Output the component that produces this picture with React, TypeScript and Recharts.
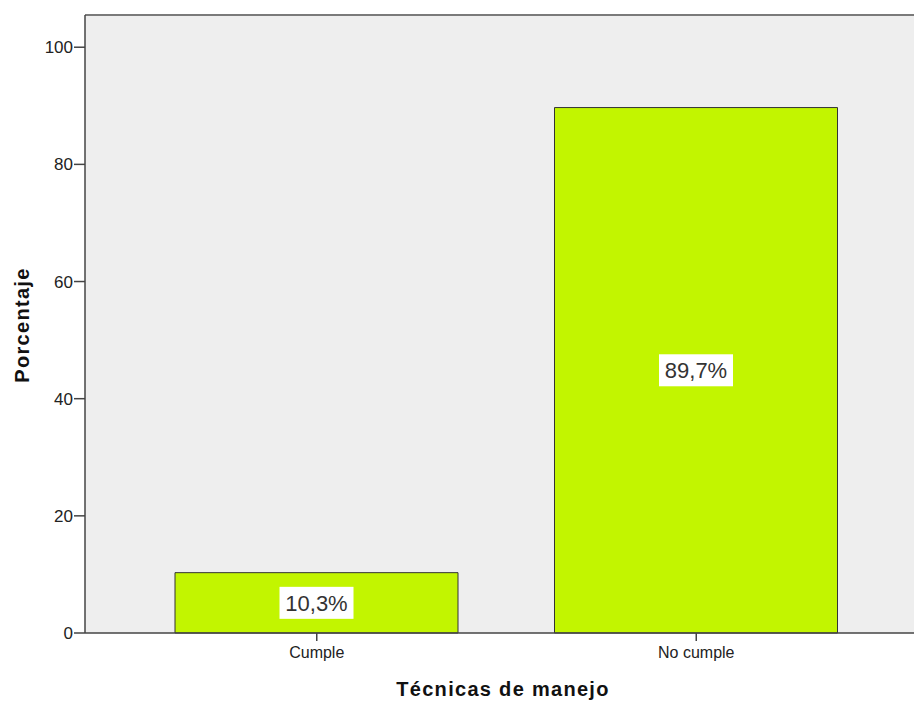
import * as React from 'react';
import { BarChart, Bar, XAxis, YAxis, CartesianGrid, ReferenceLine, LabelList } from 'recharts';

const categories = ['Cumple', 'No cumple'];
const percentages = [10.3, 89.7];
const yTicks = [0, 20, 40, 60, 80, 100];

const chartData = categories.map((name, i) => ({ name, value: percentages[i] }));

const FONT = '"Liberation Sans", Arial, sans-serif';

// white box with the percentage, centred in the bar
const BarValueLabel = (props: any) => {
  const { x, y, width, height, value } = props;
  const cx = x + width / 2;
  const cy = y + height / 2;
  const text = value.toFixed(1).replace('.', ',') + '%';
  return (
    <g>
      <rect x={cx - 37} y={cy - 16} width={74} height={32} fill="#ffffff" />
      <text x={cx} y={cy + 8} textAnchor="middle" fontSize={22} fill="#333" fontFamily={FONT}>
        {text}
      </text>
    </g>
  );
};

const App: React.FC = () => {
  return (
    <div style={{ position: 'absolute', left: 0, top: 0, width: 914, height: 702, background: '#fff' }}>
      <BarChart
        width={914}
        height={702}
        data={chartData}
        margin={{ top: 15, right: 0, left: 25, bottom: 0 }}
      >
        <CartesianGrid horizontal={false} vertical={false} fill="#eeeeee" />
        <ReferenceLine y={105.5} stroke="#7a7a7a" strokeWidth={2} />
        <XAxis
          dataKey="name"
          height={69}
          padding={{ left: 42, right: 28 }}
          stroke="#444"
          strokeWidth={1.5}
          tickSize={8}
          tickMargin={6}
          tick={{ fontSize: 16, fill: '#222', fontFamily: FONT }}
          label={{
            content: () => (
              <text x={503} y={696} textAnchor="middle" fontSize={20} fontWeight="bold" letterSpacing={1.3} fill="#111" fontFamily={FONT}>
                Técnicas de manejo
              </text>
            ),
          }}
        />
        <YAxis
          width={60}
          domain={[0, 105.5]}
          ticks={yTicks}
          stroke="#444"
          strokeWidth={1.5}
          tickSize={11}
          tickMargin={1}
          tick={{ fontSize: 17, fill: '#222', fontFamily: FONT }}
          label={{
            content: () => (
              <text x={29} y={325} transform="rotate(-90 29 325)" textAnchor="middle" fontSize={20} fontWeight="bold" letterSpacing={1.3} fill="#111" fontFamily={FONT}>
                Porcentaje
              </text>
            ),
          }}
        />
        <Bar dataKey="value" fill="#c2f500" stroke="#333" strokeWidth={1} barSize={283} isAnimationActive={false}>
          <LabelList dataKey="value" content={BarValueLabel} />
        </Bar>
      </BarChart>
    </div>
  );
};

export default App;
